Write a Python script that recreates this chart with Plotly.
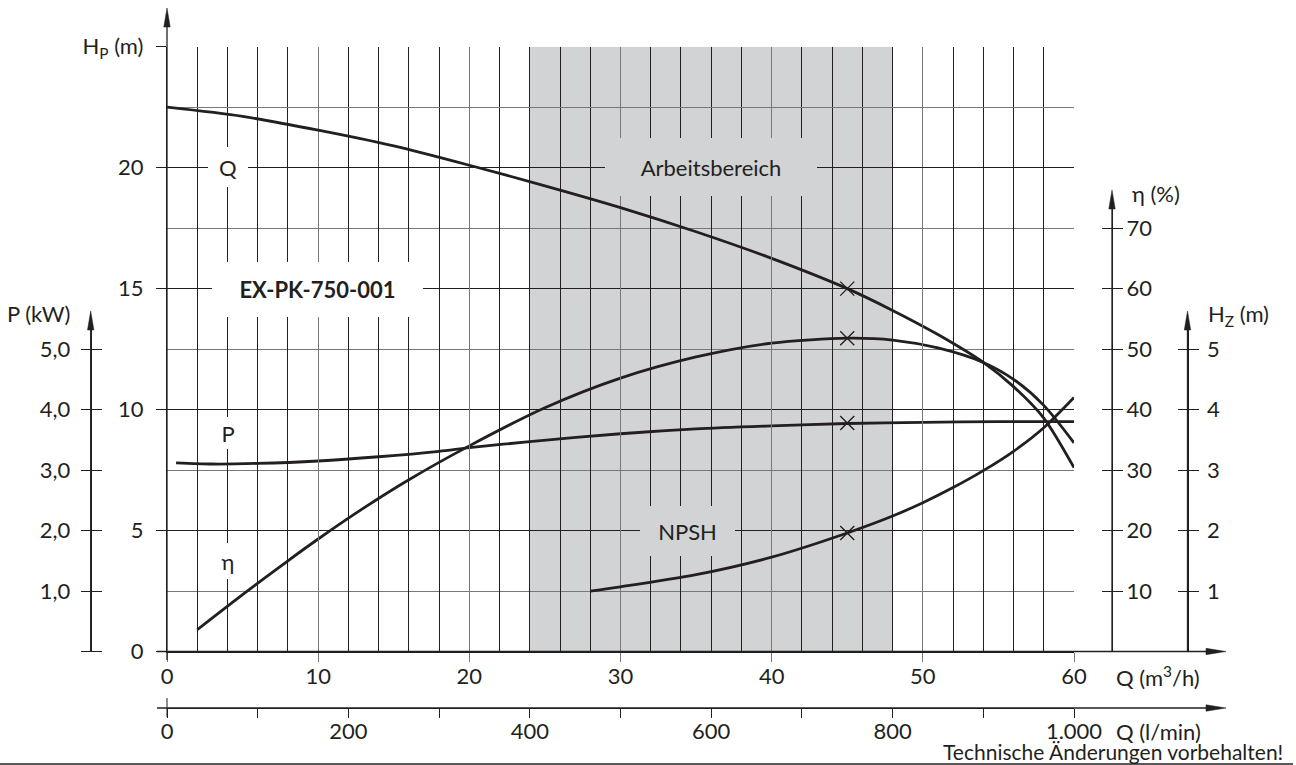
import plotly.graph_objects as go

W, H = 1296, 765


def fx(p):
    return p / W


def fy(p):
    return 1 - p / H


# ---------------- data ----------------
q_head = [0, 5, 10, 15, 20, 25, 30, 35, 40, 45, 48, 51, 54, 56, 58, 60]
head_m = [22.5, 22.12, 21.55, 20.9, 20.1, 19.25, 18.35, 17.35, 16.25, 15.0, 14.1, 13.1, 11.95, 10.95, 9.65, 7.6]

q_power = [0.6, 3, 6, 10, 14, 18, 20, 24, 30, 35, 40, 45, 50, 55, 60]
power_kw = [3.12, 3.10, 3.11, 3.15, 3.22, 3.31, 3.37, 3.47, 3.60, 3.68, 3.73, 3.77, 3.79, 3.80, 3.80]

q_eta = [2, 5, 8, 10, 13, 16, 20, 25, 30, 35, 40, 45, 48, 51, 54, 56, 58, 60]
eta_pct = [3.6, 9.4, 15.0, 18.6, 23.7, 28.4, 34.0, 40.3, 45.2, 48.7, 51.0, 51.8, 51.5, 50.2, 47.8, 45.0, 40.7, 34.5]

q_npsh = [28, 30, 35, 40, 45, 48, 50, 52, 54, 56, 58, 60]
npsh_m = [1.0, 1.07, 1.27, 1.56, 1.96, 2.24, 2.46, 2.71, 2.99, 3.31, 3.70, 4.2]

q_op = 45  # operating point (m3/h)
op_head, op_eta, op_power, op_npsh = 15.0, 51.8, 3.78, 1.96

work_range = [24, 48]  # Arbeitsbereich (m3/h)

q_ticks = [0, 10, 20, 30, 40, 50, 60]
lmin_ticks = [0, 200, 400, 600, 800, 1000]
lmin_text = ["0", "200", "400", "600", "800", "1.000"]
h_ticks = [0, 5, 10, 15, 20, 25]
h_text = ["0", "5", "10", "15", "20", "H<sub>P</sub> (m)"]
p_ticks = [0, 1, 2, 3, 4, 5]
p_text = ["", "1,0", "2,0", "3,0", "4,0", "5,0"]
eta_ticks = [10, 20, 30, 40, 50, 60, 70]
hz_ticks = [1, 2, 3, 4, 5]

# ---------------- style ----------------
INK = "#231f20"
GRID_DARK = "#231f20"
GRID_GRAY = "#77787b"
SHADE = "#d1d3d4"
FONT = "Lato"
FS = 22
LW = 2.8

X_0, X_60 = 167, 1074
Y_0, Y_25 = 651.5, 46.7
PX_H = (Y_0 - Y_25) / 25.0       # px per metre head
PX_P = PX_H * 2.5                # px per kW / per m NPSH
PX_E = PX_H * 0.25               # px per % efficiency

tickfont = dict(family=FONT, size=FS, color=INK)

fig = go.Figure()

curve = dict(color=INK, width=LW, shape="spline", smoothing=0.8)
xmark = dict(symbol="x-thin", size=14, line=dict(width=1.4, color=INK), color=INK)

fig.add_trace(go.Scatter(x=q_head, y=head_m, mode="lines", line=curve, xaxis="x", yaxis="y",
                         hoverinfo="skip", showlegend=False))
fig.add_trace(go.Scatter(x=q_power, y=power_kw, mode="lines", line=curve, xaxis="x", yaxis="y2",
                         hoverinfo="skip", showlegend=False))
fig.add_trace(go.Scatter(x=q_eta, y=eta_pct, mode="lines", line=curve, xaxis="x", yaxis="y4",
                         hoverinfo="skip", showlegend=False))
fig.add_trace(go.Scatter(x=q_npsh, y=npsh_m, mode="lines", line=curve, xaxis="x", yaxis="y6",
                         hoverinfo="skip", showlegend=False))

# operating point markers
fig.add_trace(go.Scatter(x=[q_op * 1000 / 60], y=[op_head], mode="markers", marker=xmark,
                         xaxis="x2", yaxis="y", hoverinfo="skip", showlegend=False))
fig.add_trace(go.Scatter(x=[q_op], y=[op_power], mode="markers", marker=xmark,
                         xaxis="x", yaxis="y3", hoverinfo="skip", showlegend=False))
fig.add_trace(go.Scatter(x=[q_op], y=[op_eta], mode="markers", marker=xmark,
                         xaxis="x", yaxis="y5", hoverinfo="skip", showlegend=False))
fig.add_trace(go.Scatter(x=[q_op], y=[op_npsh], mode="markers", marker=xmark,
                         xaxis="x", yaxis="y7", hoverinfo="skip", showlegend=False))

common = dict(showgrid=False, zeroline=False, automargin=False, fixedrange=True, tickfont=tickfont)

x_dom = [fx(X_0), fx(X_60)]
y_dom = [fy(Y_0), fy(Y_25)]
p_top = 330
e_top = 208.5
p_max = (Y_0 - p_top) / PX_P
e_max = (Y_0 - e_top) / PX_E

layout_axes = dict(
    xaxis=dict(common, domain=x_dom, range=[0, 60], anchor="y", tickmode="array", tickvals=q_ticks,
               ticks="outside", ticklen=9, tickcolor=GRID_GRAY, tickwidth=1,
               showgrid=True, gridcolor=GRID_GRAY, gridwidth=1,
               minor=dict(dtick=2, tick0=0, showgrid=True, gridcolor=GRID_DARK, gridwidth=1, ticks=""),
               showline=True, linecolor=INK, linewidth=1.3, ticklabelstandoff=-4),
    yaxis=dict(common, domain=y_dom, range=[0, 25], anchor="x", tickmode="array", tickvals=h_ticks,
               ticktext=h_text, ticks="outside", ticklen=10, tickcolor=INK, tickwidth=1,
               showgrid=True, gridcolor=GRID_DARK, gridwidth=1,
               minor=dict(dtick=2.5, tick0=0, showgrid=True, gridcolor=GRID_GRAY, gridwidth=1, ticks=""),
               showline=True, linecolor=INK, linewidth=1.3, ticklabelstandoff=8),
    xaxis2=dict(common, overlaying="x", anchor="free", position=fy(708), side="bottom", range=[0, 1000],
                tickmode="array", tickvals=lmin_ticks, ticktext=lmin_text, ticks="outside", ticklen=9,
                tickcolor=INK, tickwidth=1,
                minor=dict(dtick=100, tick0=0, ticks="outside", ticklen=9, tickcolor=INK, tickwidth=1),
                showline=True, linecolor=INK, linewidth=1.3, ticklabelstandoff=-6),
    yaxis2=dict(common, anchor="free", position=fx(90.7), side="left", domain=[fy(Y_0), fy(p_top)],
                range=[0, p_max], tickmode="array", tickvals=p_ticks, ticktext=p_text, ticks="outside",
                ticklen=10, tickcolor=INK, tickwidth=1, showline=True, linecolor=INK, linewidth=1.3,
                ticklabelstandoff=6),
    yaxis3=dict(common, overlaying="y2", anchor="free", position=fx(90.7), side="right",
                range=[0, p_max], tickmode="array", tickvals=p_ticks, ticks="outside", ticklen=10,
                tickcolor=INK, tickwidth=1, showticklabels=False, showline=False),
    yaxis4=dict(common, anchor="free", position=fx(1112), side="right", domain=[fy(Y_0), fy(e_top)],
                range=[0, e_max], tickmode="array", tickvals=eta_ticks, ticks="outside", ticklen=10,
                tickcolor=INK, tickwidth=1, showline=True, linecolor=INK, linewidth=1.3,
                ticklabelstandoff=-1),
    yaxis5=dict(common, overlaying="y4", anchor="free", position=fx(1112), side="left",
                range=[0, e_max], tickmode="array", tickvals=eta_ticks, ticks="outside", ticklen=10,
                tickcolor=INK, tickwidth=1, showticklabels=False, showline=False),
    yaxis6=dict(common, anchor="free", position=fx(1187.5), side="right", domain=[fy(Y_0), fy(p_top)],
                range=[0, p_max], tickmode="array", tickvals=hz_ticks, ticks="outside", ticklen=10,
                tickcolor=INK, tickwidth=1, showline=True, linecolor=INK, linewidth=1.3,
                ticklabelstandoff=4),
    yaxis7=dict(common, overlaying="y6", anchor="free", position=fx(1187.5), side="left",
                range=[0, p_max], tickmode="array", tickvals=hz_ticks, ticks="outside", ticklen=10,
                tickcolor=INK, tickwidth=1, showticklabels=False, showline=False),
)

shapes = []
# Arbeitsbereich shading
shapes.append(dict(type="rect", xref="x", yref="y", x0=work_range[0], x1=work_range[1], y0=0, y1=25,
                   fillcolor=SHADE, line=dict(width=0), layer="below"))


def pline(x0, y0, x1, y1, w=1.3):
    shapes.append(dict(type="line", xref="paper", yref="paper", x0=fx(x0), y0=fy(y0), x1=fx(x1),
                       y1=fy(y1), line=dict(color=INK, width=w), layer="above"))


def arrow_up(x, tip, base):
    shapes.append(dict(type="path", xref="paper", yref="paper",
                       path=f"M {fx(x)},{fy(tip)} L {fx(x - 3.2)},{fy(base)} L {fx(x + 3.2)},{fy(base)} Z",
                       fillcolor=INK, line=dict(color=INK, width=0.5), layer="above"))


def arrow_right(y, tip, base):
    shapes.append(dict(type="path", xref="paper", yref="paper",
                       path=f"M {fx(tip)},{fy(y)} L {fx(base)},{fy(y - 3.2)} L {fx(base)},{fy(y + 3.2)} Z",
                       fillcolor=INK, line=dict(color=INK, width=0.5), layer="above"))


# axis extensions + arrows
pline(X_0, 660, X_0, 26)
arrow_up(X_0, 8, 27)
pline(157, Y_0, 1207, Y_0)
arrow_right(Y_0, 1226, 1206)
pline(157, 708, 1207, 708)
arrow_right(708, 1226, 1206)
pline(X_0, 698, X_0, 717, 1)
pline(90.7, Y_0, 90.7, p_top)
arrow_up(90.7, 311, 330)
pline(1112, Y_0, 1112, e_top)
arrow_up(1112, 190, 209)
pline(1187.5, Y_0, 1187.5, p_top)
arrow_up(1187.5, 311, 330)
# bottom rule
pline(0, 764, 1293, 764, 1.6)

annotations = []


def label(text, cx, cy, bw, bh, bg, size=FS):
    annotations.append(dict(text=text, xref="paper", yref="paper", x=fx(cx), y=fy(cy), xanchor="center",
                            yanchor="middle", showarrow=False, width=bw, height=bh, bgcolor=bg,
                            borderpad=0, borderwidth=0, font=dict(family=FONT, size=size, color=INK)))


def text(t, x, y, xanchor="left", size=FS):
    annotations.append(dict(text=t, xref="paper", yref="paper", x=fx(x), y=fy(y), xanchor=xanchor,
                            yanchor="middle", showarrow=False, font=dict(family=FONT, size=size, color=INK)))


label("Q", 227.5, 167, 40, 40, "white")
label("Arbeitsbereich", 711, 167, 212, 58, SHADE)
label("<b>EX-PK-750-001</b>", 317.5, 289.5, 211, 55, "white")
label("P", 227.5, 433, 22, 32, "white")
label("η", 227.5, 561, 22, 36, "white")
label("NPSH", 687.5, 531, 95, 50, SHADE)

text("P (kW)", 73, 313, "right")
text("η (%)", 1130, 193)
text("H<sub>Z</sub> (m)", 1206, 315)
text("Q (m<sup>3</sup>/h)", 1114, 676)
text("Q (l/min)", 1114, 731)
text("Technische Änderungen vorbehalten!", 1285, 751, "right", 21)

fig.update_layout(
    width=W, height=H,
    margin=dict(l=0, r=0, t=0, b=0),
    paper_bgcolor="white", plot_bgcolor="rgba(0,0,0,0)",
    font=dict(family=FONT, size=FS, color=INK),
    showlegend=False,
    shapes=shapes, annotations=annotations,
    **layout_axes,
)

fig.write_html("out.html", config={"displayModeBar": False},
               post_script="document.body.style.margin='0';document.body.style.overflow='hidden';")
